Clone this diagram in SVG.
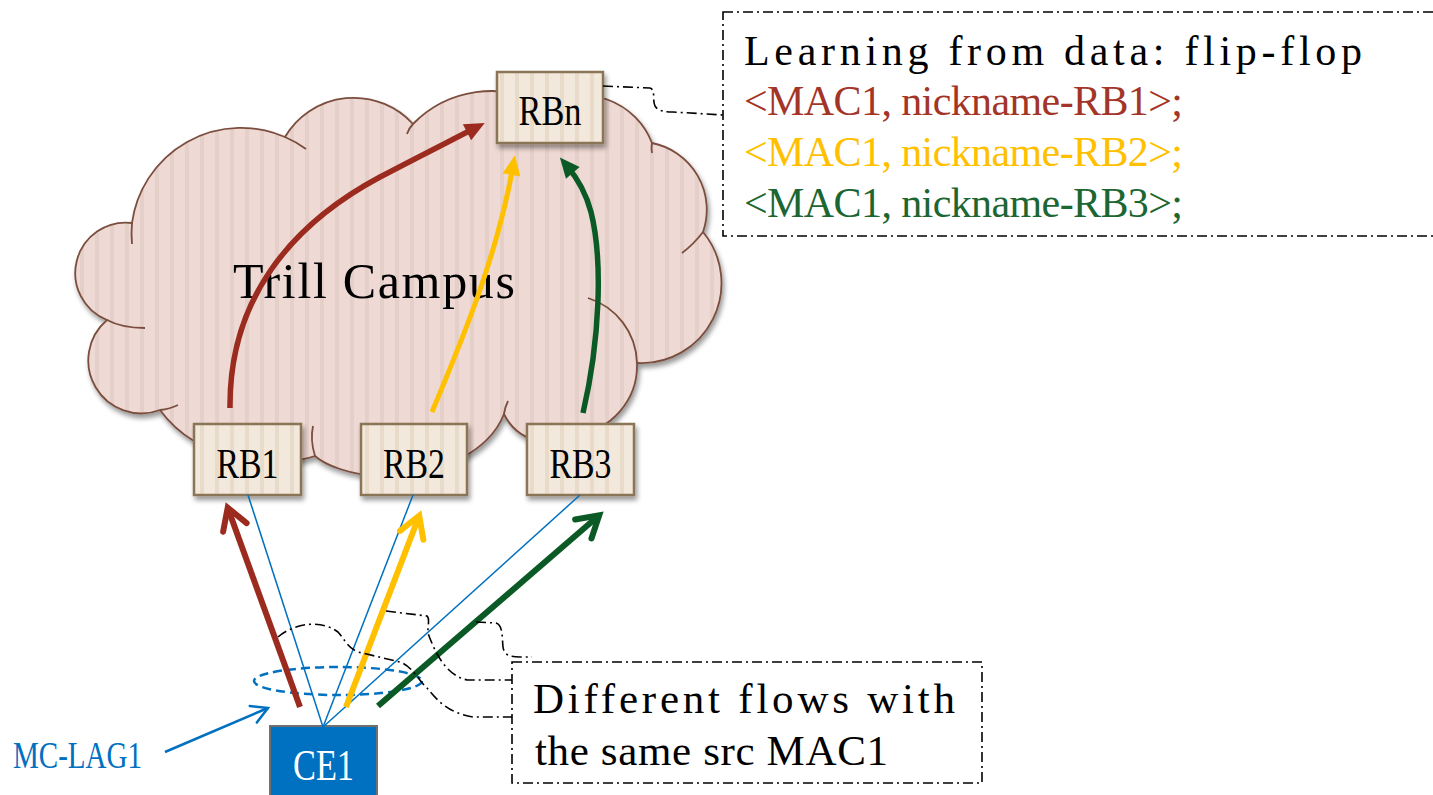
<svg xmlns="http://www.w3.org/2000/svg" width="1433" height="795" viewBox="0 0 1433 795">
  <style>
    .rb { stroke: #8A7556; stroke-width: 2.5; fill: url(#boxStripe); filter: url(#shadow); }
    .rbt { font-family: "Liberation Serif", serif; font-size: 43px; fill: #000; text-anchor: middle; }
    .txt { font-family: "Liberation Serif", serif; }
    .lobe { fill: none; stroke: #7A4E3E; stroke-width: 1.8; }
    .thin { fill: none; stroke: #0070C0; stroke-width: 1.5; }
    .dd { fill: none; stroke: #000; stroke-width: 1.6; stroke-dasharray: 10 4 2 4; }
  </style>
  <defs>
    <pattern id="cloudStripe" patternUnits="userSpaceOnUse" width="15" height="20">
      <rect width="15" height="20" fill="#EED9D4"/>
      <rect x="5" width="4" height="20" fill="#E5CFC9"/>
    </pattern>
    <pattern id="boxStripe" patternUnits="userSpaceOnUse" width="15" height="20">
      <rect width="15" height="20" fill="#F3E8DC"/>
      <rect x="5" width="4" height="20" fill="#E8DBCA"/>
    </pattern>
    <filter id="shadow" x="-15%" y="-15%" width="140%" height="140%">
      <feGaussianBlur in="SourceAlpha" stdDeviation="2.5"/>
      <feOffset dx="2" dy="4"/>
      <feComponentTransfer><feFuncA type="linear" slope="0.4"/></feComponentTransfer>
      <feMerge><feMergeNode/><feMergeNode in="SourceGraphic"/></feMerge>
    </filter>
    <marker id="chevRed" markerUnits="userSpaceOnUse" markerWidth="40" markerHeight="40" orient="auto" overflow="visible">
      <path d="M-21,-12.5 L0,0 L-21,12.5" fill="none" stroke="#9C2B1F" stroke-width="6" stroke-linecap="round"/>
    </marker>
    <marker id="chevYellow" markerUnits="userSpaceOnUse" markerWidth="40" markerHeight="40" orient="auto" overflow="visible">
      <path d="M-21,-12.5 L0,0 L-21,12.5" fill="none" stroke="#FFC000" stroke-width="6" stroke-linecap="round"/>
    </marker>
    <marker id="chevGreen" markerUnits="userSpaceOnUse" markerWidth="40" markerHeight="40" orient="auto" overflow="visible">
      <path d="M-21,-12.5 L0,0 L-21,12.5" fill="none" stroke="#0B5A26" stroke-width="6" stroke-linecap="round"/>
    </marker>
    <marker id="chevBlue" markerUnits="userSpaceOnUse" markerWidth="30" markerHeight="30" orient="auto" overflow="visible">
      <path d="M-16,-9 L0,0 L-16,9" fill="none" stroke="#0070C0" stroke-width="2.5" stroke-linecap="round"/>
    </marker>
    <marker id="triRed" markerUnits="userSpaceOnUse" markerWidth="30" markerHeight="30" orient="auto" overflow="visible">
      <path d="M-9,-9 L11,0 L-9,9 Z" fill="#9C2B1F"/>
    </marker>
    <marker id="triYellow" markerUnits="userSpaceOnUse" markerWidth="30" markerHeight="30" orient="auto" overflow="visible">
      <path d="M-9,-9 L11,0 L-9,9 Z" fill="#FFC000"/>
    </marker>
    <marker id="triGreen" markerUnits="userSpaceOnUse" markerWidth="30" markerHeight="30" orient="auto" overflow="visible">
      <path d="M-9,-9 L11,0 L-9,9 Z" fill="#0B5A26"/>
    </marker>
  </defs>

  <!-- Trill campus cloud -->
  <g id="cloud">
    <path d="M132,223 A110,110 0 0 1 285,137 A80,80 0 0 1 413,124 A110,110 0 0 1 545,105 A75,75 0 0 1 652,143 A68,68 0 0 1 703,232 A80,80 0 0 1 637,363 A70,70 0 0 1 575,435 A50,50 0 0 1 504,414 C490,450 440,478 380,476 C350,475 325,465 315,456 C280,468 200,465 160,410 A53,53 0 0 1 107,320 A50.5,50.5 0 0 1 132,223 Z"
          fill="url(#cloudStripe)" stroke="#7A4E3E" stroke-width="1.8" filter="url(#shadow)"/>
    <!-- inner lobe arcs -->
    <path class="lobe" d="M132,223 A110,110 0 0 0 132,244"/>
    <path class="lobe" d="M285,137 A110,110 0 0 1 306,149"/>
    <path class="lobe" d="M413,124 Q409,128 407,134"/>
    <path class="lobe" d="M652,143 Q651,148 652,153"/>
    <path class="lobe" d="M703,232 Q694,244 682,253"/>
    <path class="lobe" d="M588,298 A70,70 0 0 1 637,363"/>
    <path class="lobe" d="M504,414 Q505,407 508,401"/>
    <path class="lobe" d="M315,456 Q310,440 313,426"/>
    <path class="lobe" d="M160,410 Q170,409 178,405"/>
    <path class="lobe" d="M107,320 Q122,328 145,328"/>
    <text class="txt" x="233" y="298" font-size="50" textLength="282" lengthAdjust="spacing">Trill Campus</text>
  </g>

  <!-- RBridges -->
  <g id="rbn">
    <rect class="rb" x="497" y="72" width="106" height="71"/>
    <text class="rbt" x="550" y="125" textLength="63" lengthAdjust="spacingAndGlyphs">RBn</text>
  </g>
  <g id="rb1">
    <rect class="rb" x="194" y="424" width="107" height="71"/>
    <text class="rbt" x="247.5" y="478" textLength="62" lengthAdjust="spacingAndGlyphs">RB1</text>
  </g>
  <g id="rb2">
    <rect class="rb" x="361" y="424" width="106" height="71"/>
    <text class="rbt" x="414" y="478" textLength="62" lengthAdjust="spacingAndGlyphs">RB2</text>
  </g>
  <g id="rb3">
    <rect class="rb" x="527" y="424" width="107" height="71"/>
    <text class="rbt" x="580.5" y="478" textLength="62" lengthAdjust="spacingAndGlyphs">RB3</text>
  </g>

  <!-- Customer edge -->
  <g id="ce1">
    <rect x="270" y="726" width="107" height="80" fill="#0070C0" stroke="#707070" stroke-width="2"/>
    <text x="323.5" y="780" font-family="Liberation Serif, serif" font-size="44" fill="#FFFFFF" text-anchor="middle" textLength="61" lengthAdjust="spacingAndGlyphs">CE1</text>
  </g>

  <!-- MC-LAG bundle -->
  <g id="mclag">
    <ellipse cx="338" cy="681" rx="84" ry="14" fill="none" stroke="#0070C0" stroke-width="2.5" stroke-dasharray="9 5"/>
    <text class="txt" x="13" y="768" font-size="38" fill="#0070C0" textLength="129" lengthAdjust="spacingAndGlyphs">MC-LAG1</text>
  </g>

  <!-- Learning table note -->
  <g id="note-learning">
    <rect class="dd" x="723" y="12" width="730" height="224"/>
    <g class="txt" font-size="42">
      <text x="744" y="65" fill="#000" textLength="618" lengthAdjust="spacing">Learning from data: flip-flop</text>
      <text x="744" y="115" fill="#A33528" textLength="439" lengthAdjust="spacing">&lt;MAC1, nickname-RB1&gt;;</text>
      <text x="744" y="166" fill="#FFC000" textLength="439" lengthAdjust="spacing">&lt;MAC1, nickname-RB2&gt;;</text>
      <text x="744" y="217" fill="#1B6632" textLength="439" lengthAdjust="spacing">&lt;MAC1, nickname-RB3&gt;;</text>
    </g>
  </g>

  <!-- Flows note -->
  <g id="note-flows">
    <rect class="dd" x="512" y="662" width="470" height="121"/>
    <g class="txt" font-size="43" fill="#000">
      <text x="533" y="713" textLength="422" lengthAdjust="spacing">Different flows with</text>
      <text x="535" y="765" textLength="353" lengthAdjust="spacing">the same src MAC1</text>
    </g>
  </g>

  <!-- Links and flows -->
  <g id="connectors">
    <!-- member links of the bundle -->
    <path class="thin" d="M323,727 L248,495"/>
    <path class="thin" d="M323,727 L413,495"/>
    <path class="thin" d="M323,727 L580,495"/>
    <!-- flows from CE1 into the edge RBridges -->
    <path d="M300,707 L227.7,507.7" fill="none" stroke="#9C2B1F" stroke-width="6" marker-end="url(#chevRed)"/>
    <path d="M346,707 L419.2,515.7" fill="none" stroke="#FFC000" stroke-width="6" marker-end="url(#chevYellow)"/>
    <path d="M378,706 L599.2,515.3" fill="none" stroke="#0B5A26" stroke-width="6" marker-end="url(#chevGreen)"/>
    <!-- flows across the campus towards RBn -->
    <path d="M230,408 C229,300 290,225 380,177 C420,156 450,141 475,128" fill="none" stroke="#9C2B1F" stroke-width="5.5" marker-end="url(#triRed)"/>
    <path d="M432,412 C460,345 497,258 513,166" fill="none" stroke="#FFC000" stroke-width="5" marker-end="url(#triYellow)"/>
    <path d="M583,413 C600,340 603,260 591,212 C586,193 578,179 567,166" fill="none" stroke="#0B5A26" stroke-width="5.5" marker-end="url(#triGreen)"/>
    <!-- MC-LAG pointer -->
    <path d="M165,752 L268,708" fill="none" stroke="#0070C0" stroke-width="2.5" marker-end="url(#chevBlue)"/>
    <!-- callout leaders -->
    <path class="dd" d="M603,86 L650,88 C656,90 652,100 655,106 C658,111 665,112 673,112 L723,115"/>
    <path class="dd" d="M278,637 C296,622 322,620 338,632 C345,640 348,648 358,652 L400,662 C412,666 418,680 427,688 C437,700 448,713 473,717 L512,717"/>
    <path class="dd" d="M386,611 L427,616 C431,619 426,628 429,636 C436,654 446,675 467,680 L512,680"/>
    <path class="dd" d="M476,622 L496,623 C503,625 502,637 503,647 C504,655 510,657 520,657 L532,657"/>
  </g>
</svg>
